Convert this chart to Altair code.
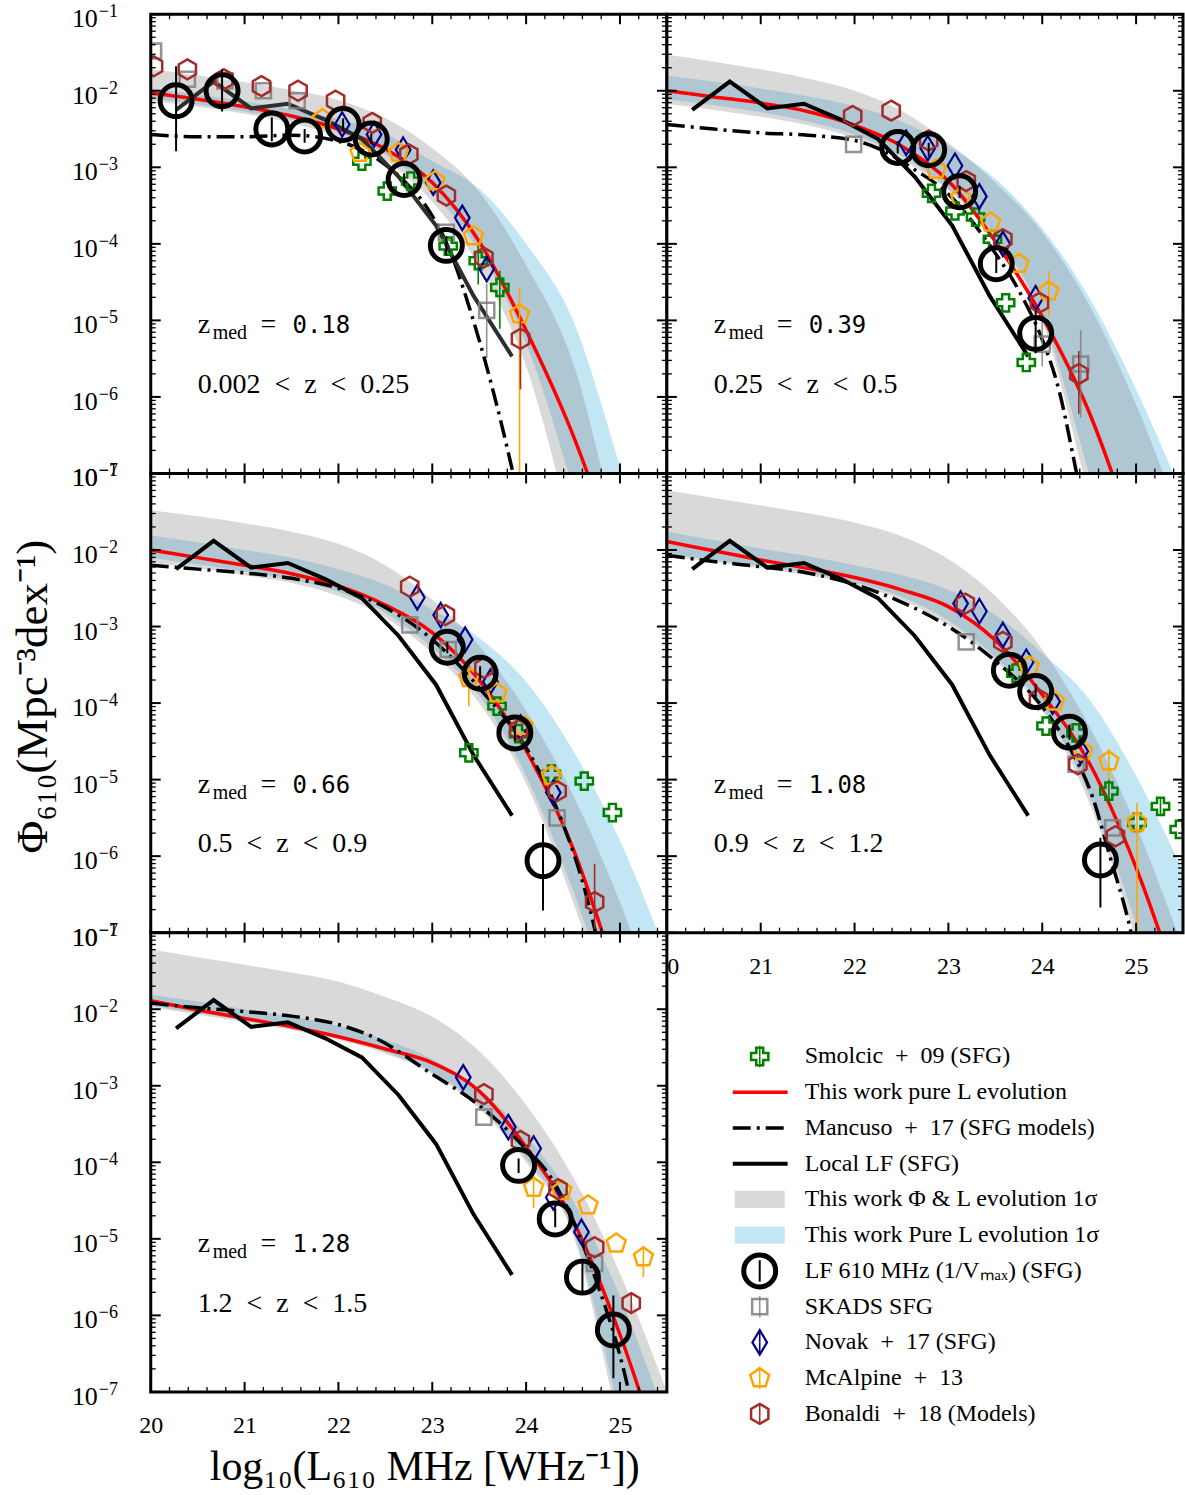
import altair as alt
import pandas as pd

SERIF = "Liberation Serif"
MONO = "DejaVu Sans Mono"
W, H = 517, 460
X_DOMAIN = [20.0, 25.5]
Y_DOMAIN = [1e-7, 1e-1]

# ---------------- axes / ticks ----------------
X_TICK_VALUES = [20, 21, 22, 23, 24, 25]
Y_TICK_VALUES = [1e-7, 1e-6, 1e-5, 1e-4, 1e-3, 1e-2, 1e-1]
Y_TICK_BASE = ["10", "10", "10", "10", "10", "10", "10"]
Y_TICK_EXP = ["\u22127", "\u22126", "\u22125", "\u22124", "\u22123", "\u22122", "\u22121"]
Y_MINOR = [k * 10.0 ** n for n in range(-7, -1) for k in range(2, 10)]
X_MINOR = [round(20 + 0.2 * i, 1) for i in range(1, 28) if i % 5 != 0]
Y_TITLE = "Φ₆₁₀(Mpc⁻³dex⁻¹)"
X_TITLE = "log₁₀(L₆₁₀ MHz [WHz⁻¹])"

# ---------------- annotations ----------------
ZMED = ["0.18", "0.39", "0.66", "1.08", "1.28"]
ZRANGE = ["0.002\u00a0\u00a0<\u00a0\u00a0z\u00a0\u00a0<\u00a0\u00a00.25",
          "0.25\u00a0\u00a0<\u00a0\u00a0z\u00a0\u00a0<\u00a0\u00a00.5",
          "0.5\u00a0\u00a0<\u00a0\u00a0z\u00a0\u00a0<\u00a0\u00a00.9",
          "0.9\u00a0\u00a0<\u00a0\u00a0z\u00a0\u00a0<\u00a0\u00a01.2",
          "1.2\u00a0\u00a0<\u00a0\u00a0z\u00a0\u00a0<\u00a0\u00a01.5"]
ANNOT_L = 20.5
ZMED_LOG = -5.17
ZRANGE_LOG = -5.95

# ---------------- model curves (log10 Phi on GRID_L) ----------------
GRID_L = [20.0, 20.5, 21.0, 21.5, 22.0, 22.5, 23.0, 23.5, 24.0, 24.5, 25.0, 25.5]

RED_1 = [-2.03, -2.11, -2.21, -2.33, -2.50, -2.76, -3.20, -3.97, -5.13, -6.50, -8.2, -10.0]
GREY_HI_1 = [-1.72, -1.80, -1.89, -1.99, -2.12, -2.36, -2.75, -3.32, -4.28, -5.55, -7.9, -10.0]
GREY_LO_1 = [-2.13, -2.21, -2.30, -2.42, -2.60, -2.90, -3.45, -4.30, -5.60, -7.80, -10.0, -12.0]
BLUE_HI_1 = [-1.97, -2.05, -2.14, -2.24, -2.37, -2.56, -2.92, -3.28, -4.00, -5.00, -6.90, -9.0]
BLUE_LO_1 = [-2.10, -2.18, -2.27, -2.38, -2.55, -2.83, -3.33, -4.10, -5.30, -7.20, -9.5, -12.0]

RED_2 = [-2.00, -2.08, -2.16, -2.27, -2.45, -2.72, -3.18, -3.97, -4.95, -6.20, -7.9, -9.8]
GREY_HI_2 = [-1.53, -1.62, -1.72, -1.84, -2.00, -2.26, -2.68, -3.20, -3.85, -4.80, -6.10, -7.7]
GREY_LO_2 = [-2.17, -2.25, -2.34, -2.45, -2.62, -2.90, -3.30, -3.95, -5.00, -7.30, -9.5, -12.0]
BLUE_HI_2 = [-1.80, -1.88, -1.97, -2.07, -2.20, -2.40, -2.72, -3.15, -3.80, -4.70, -5.90, -7.3]
BLUE_LO_2 = [-2.11, -2.19, -2.28, -2.40, -2.57, -2.85, -3.28, -3.90, -4.95, -7.00, -9.2, -12.0]

RED_3 = [-2.00, -2.10, -2.20, -2.31, -2.47, -2.72, -3.08, -3.70, -4.62, -5.90, -7.70, -9.6]
GREY_HI_3 = [-1.48, -1.56, -1.65, -1.76, -1.92, -2.20, -2.65, -3.25, -4.10, -5.20, -6.60, -8.3]
GREY_LO_3 = [-2.17, -2.24, -2.33, -2.43, -2.60, -2.88, -3.35, -4.00, -5.05, -6.60, -8.5, -11.0]
BLUE_HI_3 = [-1.81, -1.90, -2.00, -2.10, -2.25, -2.45, -2.78, -3.15, -3.72, -4.62, -5.80, -7.3]
BLUE_LO_3 = [-2.10, -2.19, -2.28, -2.39, -2.55, -2.82, -3.28, -3.90, -4.95, -6.45, -8.3, -10.5]

RED_4 = [-1.89, -2.01, -2.13, -2.24, -2.36, -2.52, -2.74, -3.18, -3.89, -4.78, -6.15, -7.9]
GREY_HI_4 = [-1.22, -1.32, -1.42, -1.52, -1.64, -1.82, -2.12, -2.60, -3.30, -4.30, -5.60, -7.2]
GREY_LO_4 = [-2.08, -2.16, -2.24, -2.33, -2.45, -2.65, -2.98, -3.45, -4.10, -5.30, -7.10, -9.5]
BLUE_HI_4 = [-1.76, -1.87, -1.98, -2.08, -2.20, -2.33, -2.52, -2.85, -3.35, -3.95, -4.95, -6.2]
BLUE_LO_4 = [-2.05, -2.13, -2.21, -2.30, -2.42, -2.61, -2.92, -3.40, -4.05, -5.20, -6.90, -9.2]

RED_5 = [-1.89, -2.01, -2.12, -2.23, -2.36, -2.52, -2.70, -3.07, -3.80, -4.76, -6.25, -8.1]
GREY_HI_5 = [-1.22, -1.32, -1.42, -1.52, -1.64, -1.84, -2.10, -2.55, -3.25, -4.19, -5.45, -7.0]
GREY_LO_5 = [-1.97, -2.07, -2.17, -2.27, -2.40, -2.58, -2.85, -3.30, -4.00, -4.95, -7.50, -10.0]
BLUE_HI_5 = [-1.81, -1.90, -2.00, -2.10, -2.22, -2.40, -2.65, -3.05, -3.65, -4.50, -5.75, -7.4]
BLUE_LO_5 = [-1.95, -2.05, -2.15, -2.25, -2.38, -2.56, -2.82, -3.26, -3.95, -4.90, -7.30, -9.8]

# Mancuso+17 (L, log10 Phi)
DASH_1 = [(20.0, -2.57), (20.5, -2.60), (21.0, -2.60), (21.5, -2.58), (22.0, -2.66), (22.4, -2.88),
          (22.7, -3.18), (22.9, -3.45), (23.2, -4.13), (23.4, -4.85), (23.62, -5.79), (23.85, -6.94), (24.0, -7.8)]
DASH_2 = [(20.0, -2.44), (20.5, -2.50), (21.0, -2.55), (21.5, -2.58), (22.0, -2.65), (22.3, -2.78),
          (22.6, -3.00), (23.0, -3.35), (23.4, -3.95), (23.79, -4.70), (24.0, -5.25), (24.18, -5.92),
          (24.36, -6.96), (24.5, -7.8)]
DASH_3 = [(20.0, -2.20), (20.5, -2.25), (21.0, -2.30), (21.5, -2.37), (22.0, -2.50), (22.5, -2.75),
          (23.0, -3.17), (23.5, -3.80), (24.1, -4.80), (24.4, -5.60), (24.61, -6.37), (24.75, -7.05), (24.9, -7.9)]
DASH_4 = [(20.0, -2.07), (20.5, -2.15), (21.0, -2.22), (21.5, -2.30), (22.0, -2.45), (22.5, -2.68),
          (23.0, -3.00), (23.5, -3.45), (24.0, -4.05), (24.3, -4.60), (24.54, -5.24), (24.72, -6.00),
          (24.93, -6.91), (25.05, -7.6)]
DASH_5 = [(20.0, -1.92), (20.5, -1.98), (21.0, -2.03), (21.5, -2.09), (22.0, -2.20), (22.4, -2.38),
          (23.0, -2.85), (23.44, -3.20), (23.9, -3.70), (24.33, -4.33), (24.68, -5.32), (25.09, -6.97), (25.2, -7.6)]

# Local LF (SFG), same in every panel
LOCAL_L = [20.27, 20.67, 21.07, 21.46, 21.86, 22.25, 22.64, 23.04, 23.44, 23.85]
LOCAL_LOG = [-2.25, -1.88, -2.23, -2.17, -2.38, -2.63, -3.12, -3.76, -4.68, -5.47]

# ---------------- data points (L, log10 Phi) ----------------
LF_1 = [(20.27, -2.13), (20.76, -2.00), (21.29, -2.50), (21.64, -2.59), (22.05, -2.44), (22.35, -2.63), (22.70, -3.16), (23.15, -4.02)]
LF_ERR_1 = [(20.27, -2.79, -1.68), (20.76, -2.27, -1.72), (21.29, -2.66, -2.35), (21.64, -2.68, -2.50),
            (22.05, -2.52, -2.36), (22.35, -2.70, -2.56), (22.70, -3.25, -3.08), (23.15, -4.15, -3.90)]
SMOLCIC_1 = [(22.25, -2.92), (22.52, -3.31), (22.77, -3.18), (23.17, -4.03), (23.49, -4.22), (23.72, -4.57)]
SMOLCIC_ERR_1 = [(23.49, -4.53, -4.00), (23.72, -5.11, -4.35)]
SKADS_1 = [(20.03, -1.48), (20.39, -1.85), (20.79, -1.87), (21.20, -2.00), (21.56, -2.13), (23.15, -3.85), (23.58, -4.87)]
SKADS_ERR_1 = [(23.58, -5.49, -4.52)]
NOVAK_1 = [(22.04, -2.44), (22.38, -2.57), (22.69, -2.77), (23.01, -3.20), (23.32, -3.66), (23.58, -4.33)]
MCALPINE_1 = [(21.83, -2.37), (22.23, -2.81), (22.64, -2.81), (23.03, -3.18), (23.44, -3.90), (23.93, -4.92)]
MCALPINE_ERR_1 = [(23.93, -8.0, -4.57)]
BONALDI_1 = [(20.03, -1.68), (20.39, -1.72), (20.78, -1.85), (21.18, -1.94), (21.57, -2.00), (21.97, -2.13),
             (22.36, -2.42), (22.75, -2.83), (23.15, -3.37), (23.55, -4.18), (23.94, -5.24)]
BONALDI_ERR_1 = [(23.94, -5.90, -5.00)]

LF_2 = [(22.46, -2.74), (22.79, -2.77), (23.12, -3.32), (23.51, -4.26), (23.93, -5.17)]
LF_ERR_2 = [(22.46, -2.82, -2.66), (22.79, -2.86, -2.68), (23.12, -3.40, -3.24), (23.51, -4.38, -4.15), (23.93, -5.43, -4.87)]
SMOLCIC_2 = [(22.82, -3.34), (23.07, -3.57), (23.29, -3.65), (23.47, -3.94), (23.61, -4.77), (23.83, -5.55)]
SMOLCIC_ERR_2 = []
SKADS_2 = [(21.99, -2.70), (24.00, -5.31), (24.41, -5.57)]
SKADS_ERR_2 = [(24.00, -5.60, -5.00), (24.41, -6.27, -5.13)]
NOVAK_2 = [(22.55, -2.68), (22.78, -2.75), (23.07, -2.98), (23.33, -3.38), (23.58, -4.00), (23.93, -4.71)]
MCALPINE_2 = [(22.87, -3.03), (23.13, -3.40), (23.45, -3.72), (23.75, -4.26), (24.07, -4.62)]
MCALPINE_ERR_2 = [(24.07, -4.95, -4.35)]
BONALDI_2 = [(21.98, -2.33), (22.39, -2.26), (22.79, -2.65), (23.19, -3.18), (23.58, -3.94), (23.97, -4.77), (24.39, -5.70)]
BONALDI_ERR_2 = [(24.39, -6.22, -5.40)]

LF_3 = [(23.16, -3.27), (23.51, -3.61), (23.88, -4.39), (24.18, -6.06)]
LF_ERR_3 = [(23.16, -3.35, -3.20), (23.51, -3.70, -3.52), (23.88, -4.50, -4.28), (24.18, -6.71, -5.58)]
SMOLCIC_3 = [(23.39, -4.65), (23.69, -4.04), (23.92, -4.40), (24.27, -4.93), (24.62, -5.02), (24.92, -5.43)]
SMOLCIC_ERR_3 = []
SKADS_3 = [(22.76, -2.98), (23.17, -3.30), (24.33, -5.50)]
SKADS_ERR_3 = []
NOVAK_3 = [(22.84, -2.62), (23.09, -2.85), (23.35, -3.17), (23.62, -3.72), (23.94, -4.32), (24.29, -5.17)]
MCALPINE_3 = [(23.39, -3.67), (23.69, -3.87), (23.97, -4.30), (24.27, -4.95)]
MCALPINE_ERR_3 = [(23.39, -4.04, -3.55)]
BONALDI_3 = [(22.76, -2.48), (23.14, -2.85), (23.55, -3.54), (23.92, -4.35), (24.33, -5.15), (24.73, -6.60)]
BONALDI_ERR_3 = [(24.73, -6.95, -6.10)]

LF_4 = [(23.65, -3.57), (23.93, -3.85), (24.29, -4.38), (24.62, -6.05)]
LF_ERR_4 = [(23.65, -3.65, -3.50), (23.93, -3.95, -3.75), (24.29, -4.48, -4.28), (24.62, -6.67, -5.76)]
SMOLCIC_4 = [(23.72, -3.61), (24.04, -4.30), (24.36, -4.39), (24.71, -5.15), (25.01, -5.56), (25.26, -5.35), (25.46, -5.65)]
SMOLCIC_ERR_4 = [(24.71, -5.30, -5.00), (25.26, -5.45, -5.25)]
SKADS_4 = [(23.19, -3.20), (24.36, -4.80), (24.75, -5.63)]
SKADS_ERR_4 = []
NOVAK_4 = [(23.13, -2.70), (23.33, -2.80), (23.58, -3.11), (23.83, -3.46), (24.11, -3.98), (24.41, -4.63)]
MCALPINE_4 = [(23.86, -3.52), (24.13, -3.98), (24.43, -4.63), (24.71, -4.76), (25.01, -5.56)]
MCALPINE_ERR_4 = [(24.71, -5.00, -4.60), (25.01, -8.0, -5.30)]
BONALDI_4 = [(23.18, -2.70), (23.58, -3.20), (23.96, -3.95), (24.38, -4.80), (24.78, -5.74)]
BONALDI_ERR_4 = []

LF_5 = [(23.92, -4.04), (24.31, -4.74), (24.60, -5.50), (24.93, -6.19)]
LF_ERR_5 = [(23.92, -4.14, -3.95), (24.31, -4.85, -4.60), (24.60, -5.70, -5.30), (24.93, -6.82, -5.74)]
SMOLCIC_5 = []
SMOLCIC_ERR_5 = []
SKADS_5 = [(23.55, -3.41), (24.73, -5.32)]
SKADS_ERR_5 = []
NOVAK_5 = [(23.33, -2.89), (23.81, -3.54), (24.08, -3.82), (24.29, -4.46), (24.59, -4.91)]
MCALPINE_5 = [(24.08, -4.33), (24.38, -4.37), (24.66, -4.56), (24.96, -5.06), (25.25, -5.24)]
MCALPINE_ERR_5 = [(24.08, -4.60, -4.20), (25.25, -5.50, -5.10)]
BONALDI_5 = [(23.55, -3.11), (23.94, -3.72), (24.34, -4.35), (24.73, -5.11), (25.12, -5.84)]
BONALDI_ERR_5 = [(25.12, -5.97, -5.70)]

LEGEND_LABELS = [
    "Smolcic\u00a0\u00a0+\u00a0\u00a009 (SFG)",
    "This work pure L evolution",
    "Mancuso\u00a0\u00a0+\u00a0\u00a017 (SFG models)",
    "Local LF (SFG)",
    "This work Φ & L evolution 1σ",
    "This work Pure L evolution 1σ",
    "LF 610 MHz (1/Vₘₐₓ) (SFG)",
    "SKADS SFG",
    "Novak\u00a0\u00a0+\u00a0\u00a017 (SFG)",
    "McAlpine\u00a0\u00a0+\u00a0\u00a013",
    "Bonaldi\u00a0\u00a0+\u00a0\u00a018 (Models)",
]

# ---------------- styles ----------------
HEXAGON = "M0,-1L0.866,-0.5L0.866,0.5L0,1L-0.866,0.5L-0.866,-0.5Z"
PENTAGON = "M0,-1L0.951,-0.309L0.588,0.809L-0.588,0.809L-0.951,-0.309Z"
THIN_DIAMOND = "M0,-1L0.6,0L0,1L-0.6,0Z"
STYLE = {
    "skads": dict(shape="square", color="#808080", size=230, sw=2.5, op=0.85),
    "smolcic": dict(shape="cross", color="green", size=300, sw=2.5, op=1.0),
    "novak": dict(shape=THIN_DIAMOND, color="darkblue", size=600, sw=2.2, op=1.0),
    "mcalpine": dict(shape=PENTAGON, color="orange", size=400, sw=2.5, op=1.0),
    "bonaldi": dict(shape=HEXAGON, color="brown", size=400, sw=2.5, op=1.0),
    "lf": dict(shape="circle", color="black", size=1024, sw=5, op=1.0),
}
GREY_BAND = dict(color="#808080", opacity=0.3)
BLUE_BAND = dict(color="skyblue", opacity=0.5)
DASHDOT = [18, 6, 3, 6]

XS = alt.Scale(domain=X_DOMAIN, nice=False, zero=False)
YS = alt.Scale(type="log", domain=Y_DOMAIN, nice=False)


def y_axis(with_title):
    if not with_title:
        return None
    return alt.Axis(labels=False, ticks=False, tickSize=0, domain=False, grid=False,
                    title=Y_TITLE, titleFont=SERIF, titleFontSize=45, titleFontWeight="normal",
                    titleColor="black", titleX=-118, titleY=H / 2 - 7, titleAlign="center", titleBaseline="middle")


def x_axis(show, with_title):
    if not show:
        return None
    kw = dict(values=X_TICK_VALUES, format="d", ticks=False, tickSize=0, domain=False, grid=False,
              labelFont=SERIF, labelFontSize=24, labelPadding=22, labelColor="black", labelFlush=False)
    if with_title:
        kw.update(title=X_TITLE, titleFont=SERIF, titleFontSize=42, titleFontWeight="normal",
                  titleColor="black", titleX=274, titleY=88, titleAlign="center", titleBaseline="alphabetic")
    else:
        kw.update(title=None)
    return alt.Axis(**kw)


def pts_df(points):
    return pd.DataFrame({"L": [p[0] for p in points], "phi": [10.0 ** p[1] for p in points]})


def err_df(errs):
    return pd.DataFrame({"L": [e[0] for e in errs], "lo": [10.0 ** e[1] for e in errs],
                         "hi": [10.0 ** e[2] for e in errs]})


def band_df(lo, hi):
    return pd.DataFrame({"L": GRID_L, "lo": [10.0 ** v for v in lo], "hi": [10.0 ** v for v in hi]})


def panel(i, red, ghi, glo, bhi, blo, dash, series, errs, show_y, y_title, show_x, x_title, local_color):
    ax_x = x_axis(show_x, x_title)
    ax_y = y_axis(y_title)

    def X(f):
        return alt.X(f, type="quantitative", scale=XS, axis=ax_x)

    def Y(f):
        return alt.Y(f, type="quantitative", scale=YS, axis=ax_y)

    layers = []
    layers.append(alt.Chart(band_df(blo, bhi)).mark_area(interpolate="monotone", clip=True, **BLUE_BAND)
                  .encode(x=X("L"), y=Y("hi"), y2="lo"))
    layers.append(alt.Chart(band_df(glo, ghi)).mark_area(interpolate="monotone", clip=True, **GREY_BAND)
                  .encode(x=X("L"), y=Y("hi"), y2="lo"))
    layers.append(alt.Chart(pts_df(list(zip(GRID_L, red)))).mark_line(
        interpolate="monotone", clip=True, color="red", strokeWidth=3.5).encode(x=X("L"), y=Y("phi")))
    layers.append(alt.Chart(pts_df(dash)).mark_line(
        interpolate="monotone", clip=True, color="black", strokeWidth=3.5, strokeDash=DASHDOT)
        .encode(x=X("L"), y=Y("phi")))
    layers.append(alt.Chart(pts_df(list(zip(LOCAL_L, LOCAL_LOG)))).mark_line(
        clip=True, color=local_color, strokeWidth=4).encode(x=X("L"), y=Y("phi")))
    for name in ["skads", "smolcic", "novak", "mcalpine", "bonaldi", "lf"]:
        st = STYLE[name]
        e = errs.get(name, [])
        if e:
            layers.append(alt.Chart(err_df(e)).mark_rule(
                clip=True, color=st["color"], strokeWidth=2 if name == "lf" else 1.6, opacity=st["op"])
                .encode(x=X("L"), y=Y("lo"), y2="hi"))
        p = series.get(name, [])
        if p:
            layers.append(alt.Chart(pts_df(p)).mark_point(
                shape=st["shape"], size=st["size"], filled=False, strokeWidth=st["sw"],
                color=st["color"], opacity=st["op"], clip=True).encode(x=X("L"), y=Y("phi")))
    # annotations
    zdf = pd.DataFrame({"L": [ANNOT_L], "phi": [10.0 ** ZMED_LOG]})
    rdf = pd.DataFrame({"L": [ANNOT_L], "phi": [10.0 ** ZRANGE_LOG]})
    base_t = dict(align="left", baseline="alphabetic", color="black")
    layers.append(alt.Chart(zdf).mark_text(text="z", font=SERIF, fontSize=28, **base_t).encode(x=X("L"), y=Y("phi")))
    layers.append(alt.Chart(zdf).mark_text(text="med", font=SERIF, fontSize=20, dx=15, dy=6, **base_t)
                  .encode(x=X("L"), y=Y("phi")))
    layers.append(alt.Chart(zdf).mark_text(text="=", font=SERIF, fontSize=28, dx=63, **base_t)
                  .encode(x=X("L"), y=Y("phi")))
    layers.append(alt.Chart(zdf).mark_text(text=ZMED[i], font=MONO, fontSize=24, dx=95, **base_t)
                  .encode(x=X("L"), y=Y("phi")))
    layers.append(alt.Chart(rdf).mark_text(text=ZRANGE[i], font=SERIF, fontSize=28, **base_t)
                  .encode(x=X("L"), y=Y("phi")))
    # inward ticks
    ymaj = pd.DataFrame({"v": Y_TICK_VALUES, "base": Y_TICK_BASE, "exp": Y_TICK_EXP})
    ymin = pd.DataFrame({"v": Y_MINOR})
    xmaj = pd.DataFrame({"v": X_TICK_VALUES})
    xmin = pd.DataFrame({"v": X_MINOR})
    for df, ln, sw in [(ymaj, 10, 2), (ymin, 5, 1.3)]:
        layers.append(alt.Chart(df).mark_rule(color="black", strokeWidth=sw)
                      .encode(y=Y("v"), x=alt.value(0), x2=alt.value(ln)))
        layers.append(alt.Chart(df).mark_rule(color="black", strokeWidth=sw)
                      .encode(y=Y("v"), x=alt.value(W - ln), x2=alt.value(W)))
    for df, ln, sw in [(xmaj, 10, 2), (xmin, 5, 1.3)]:
        layers.append(alt.Chart(df).mark_rule(color="black", strokeWidth=sw)
                      .encode(x=X("v"), y=alt.value(H - ln), y2=alt.value(H)))
        layers.append(alt.Chart(df).mark_rule(color="black", strokeWidth=sw)
                      .encode(x=X("v"), y=alt.value(0), y2=alt.value(ln)))
    # y tick labels as 10 with a raised exponent
    if show_y:
        layers.append(alt.Chart(ymaj).mark_text(align="right", baseline="middle", font=SERIF, fontSize=26,
                                                dy=5, color="black")
                      .encode(y=Y("v"), x=alt.value(-53), text="base:N"))
        layers.append(alt.Chart(ymaj).mark_text(align="left", baseline="middle", font=SERIF, fontSize=18,
                                                dy=-2, dx=1, color="black")
                      .encode(y=Y("v"), x=alt.value(-53), text="exp:N"))
    # frame
    layers.append(alt.Chart(pd.DataFrame({"a": [0]})).mark_rect(fillOpacity=0, stroke="black", strokeWidth=3)
                  .encode(x=alt.value(0), x2=alt.value(W), y=alt.value(0), y2=alt.value(H)))
    return alt.layer(*layers).properties(width=W, height=H)


P1 = panel(0, RED_1, GREY_HI_1, GREY_LO_1, BLUE_HI_1, BLUE_LO_1, DASH_1,
           dict(lf=LF_1, smolcic=SMOLCIC_1, skads=SKADS_1, novak=NOVAK_1, mcalpine=MCALPINE_1, bonaldi=BONALDI_1),
           dict(lf=LF_ERR_1, smolcic=SMOLCIC_ERR_1, skads=SKADS_ERR_1, mcalpine=MCALPINE_ERR_1, bonaldi=BONALDI_ERR_1),
           True, False, False, False, "#2e2e2e")
P2 = panel(1, RED_2, GREY_HI_2, GREY_LO_2, BLUE_HI_2, BLUE_LO_2, DASH_2,
           dict(lf=LF_2, smolcic=SMOLCIC_2, skads=SKADS_2, novak=NOVAK_2, mcalpine=MCALPINE_2, bonaldi=BONALDI_2),
           dict(lf=LF_ERR_2, smolcic=SMOLCIC_ERR_2, skads=SKADS_ERR_2, mcalpine=MCALPINE_ERR_2, bonaldi=BONALDI_ERR_2),
           False, False, False, False, "black")
P3 = panel(2, RED_3, GREY_HI_3, GREY_LO_3, BLUE_HI_3, BLUE_LO_3, DASH_3,
           dict(lf=LF_3, smolcic=SMOLCIC_3, skads=SKADS_3, novak=NOVAK_3, mcalpine=MCALPINE_3, bonaldi=BONALDI_3),
           dict(lf=LF_ERR_3, smolcic=SMOLCIC_ERR_3, skads=SKADS_ERR_3, mcalpine=MCALPINE_ERR_3, bonaldi=BONALDI_ERR_3),
           True, True, False, False, "black")
P4 = panel(3, RED_4, GREY_HI_4, GREY_LO_4, BLUE_HI_4, BLUE_LO_4, DASH_4,
           dict(lf=LF_4, smolcic=SMOLCIC_4, skads=SKADS_4, novak=NOVAK_4, mcalpine=MCALPINE_4, bonaldi=BONALDI_4),
           dict(lf=LF_ERR_4, smolcic=SMOLCIC_ERR_4, skads=SKADS_ERR_4, mcalpine=MCALPINE_ERR_4, bonaldi=BONALDI_ERR_4),
           False, False, True, False, "black")
P5 = panel(4, RED_5, GREY_HI_5, GREY_LO_5, BLUE_HI_5, BLUE_LO_5, DASH_5,
           dict(lf=LF_5, smolcic=SMOLCIC_5, skads=SKADS_5, novak=NOVAK_5, mcalpine=MCALPINE_5, bonaldi=BONALDI_5),
           dict(lf=LF_ERR_5, smolcic=SMOLCIC_ERR_5, skads=SKADS_ERR_5, mcalpine=MCALPINE_ERR_5, bonaldi=BONALDI_ERR_5),
           True, False, True, True, "black")

# ---------------- legend panel ----------------
LEG_SCALE = alt.Scale(domain=[-3.464, 9.385], reverse=True, nice=False, zero=False)
leg = pd.DataFrame({"i": list(range(len(LEGEND_LABELS))), "label": LEGEND_LABELS})
leg["lo"] = leg["i"] - 0.3
leg["hi"] = leg["i"] + 0.3
leg["rlo"] = leg["i"] - 0.24
leg["rhi"] = leg["i"] + 0.24
LY = alt.Y("i:Q", scale=LEG_SCALE, axis=None)
SYM_X = 93
legend_layers = [
    alt.Chart(leg).mark_text(align="left", baseline="middle", font=SERIF, fontSize=24, color="black")
    .encode(x=alt.value(138), y=LY, text="label:N")
]
leg_sym = {0: "smolcic", 6: "lf", 7: "skads", 8: "novak", 9: "mcalpine", 10: "bonaldi"}
for row, name in leg_sym.items():
    st = STYLE[name]
    sub = leg[leg["i"] == row]
    legend_layers.append(alt.Chart(sub).mark_rule(color=st["color"], strokeWidth=2 if name == "lf" else 1.6,
                                                  opacity=st["op"])
                         .encode(x=alt.value(SYM_X), y=LY, y2="lo:Q"))
    legend_layers.append(alt.Chart(sub).mark_rule(color=st["color"], strokeWidth=2 if name == "lf" else 1.6,
                                                  opacity=st["op"])
                         .encode(x=alt.value(SYM_X), y=LY, y2="hi:Q"))
    legend_layers.append(alt.Chart(sub).mark_point(shape=st["shape"], size=st["size"], filled=False,
                                                   strokeWidth=st["sw"], color=st["color"], opacity=st["op"])
                         .encode(x=alt.value(SYM_X), y=LY))
legend_layers.append(alt.Chart(leg[leg["i"] == 1]).mark_rule(color="red", strokeWidth=3.5)
                     .encode(x=alt.value(66), x2=alt.value(121), y=LY))
legend_layers.append(alt.Chart(leg[leg["i"] == 2]).mark_rule(color="black", strokeWidth=3.5, strokeDash=DASHDOT)
                     .encode(x=alt.value(66), x2=alt.value(121), y=LY))
legend_layers.append(alt.Chart(leg[leg["i"] == 3]).mark_rule(color="black", strokeWidth=4)
                     .encode(x=alt.value(66), x2=alt.value(121), y=LY))
legend_layers.append(alt.Chart(leg[leg["i"] == 4]).mark_rect(**GREY_BAND)
                     .encode(x=alt.value(68), x2=alt.value(118), y=alt.Y("rlo:Q", scale=LEG_SCALE, axis=None), y2="rhi:Q"))
legend_layers.append(alt.Chart(leg[leg["i"] == 5]).mark_rect(**BLUE_BAND)
                     .encode(x=alt.value(68), x2=alt.value(118), y=alt.Y("rlo:Q", scale=LEG_SCALE, axis=None), y2="rhi:Q"))
LEGEND = alt.layer(*legend_layers).properties(
    width=W, height=H, view=alt.ViewBackground(fillOpacity=0, strokeOpacity=0))

chart = alt.concat(P1, P2, P3, P4, P5, LEGEND, columns=2, spacing=0, bounds="flush",
                   padding={"left": 10, "top": 2, "right": 0, "bottom": 0},
                   autosize=alt.AutoSizeParams(type="pad")).configure(background="white").configure_view(
    fill="white", strokeOpacity=0)

chart.save("out.html", embed_options={"renderer": "svg", "actions": False})
